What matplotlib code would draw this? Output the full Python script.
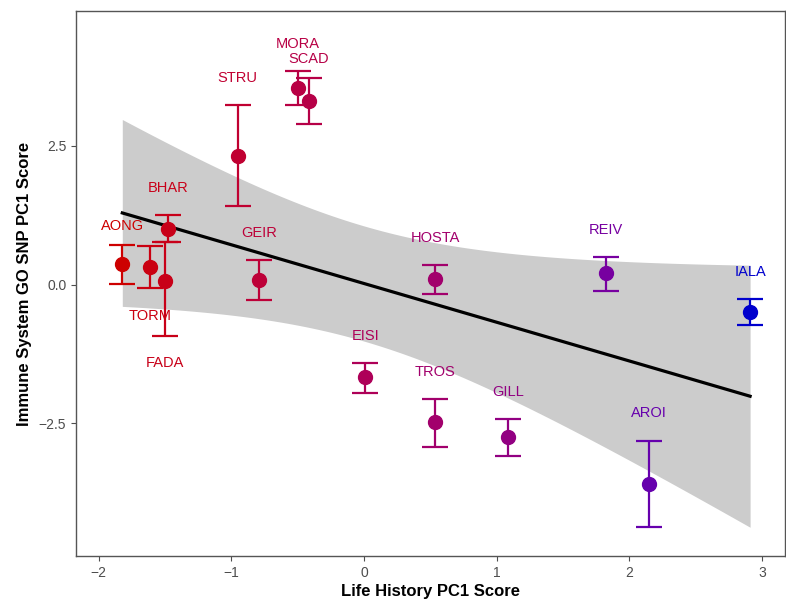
import numpy as np
import matplotlib
matplotlib.use("Agg")
import matplotlib.pyplot as plt

plt.rcParams['font.family'] = ['Liberation Sans', 'DejaVu Sans']

# population codes with PC1 scores and error bar limits
pops = ["AONG", "TORM", "FADA", "BHAR", "GEIR", "STRU", "MORA", "SCAD",
        "HOSTA", "EISI", "TROS", "GILL", "REIV", "IALA", "AROI"]
life_pc1 = [-1.821, -1.610, -1.497, -1.479, -0.791, -0.951, -0.499, -0.416,
            0.538, 0.011, 0.538, 1.084, 1.823, 2.911, 2.147]
immune_pc1 = [0.364, 0.321, 0.063, 1.000, 0.076, 2.321, 3.535, 3.312,
              0.094, -1.672, -2.483, -2.748, 0.202, -0.501, -3.595]
err_hi = [0.712, 0.699, 0.760, 1.252, 0.436, 3.229, 3.841, 3.721,
          0.346, -1.409, -2.058, -2.423, 0.501, -0.267, -2.814]
err_lo = [0.009, -0.063, -0.923, 0.760, -0.279, 1.414, 3.229, 2.897,
          -0.171, -1.950, -2.928, -3.085, -0.112, -0.730, -4.375]
label_below = ["TORM", "FADA"]

x = np.array(life_pc1)
y = np.array(immune_pc1)
hi = np.array(err_hi)
lo = np.array(err_lo)


# colour gradient red3 -> blue3 interpolated in Lab space
def srgb_to_lab(rgb):
    c = np.asarray(rgb, float)
    c = np.where(c <= 0.04045, c / 12.92, ((c + 0.055) / 1.055) ** 2.4)
    m = np.array([[0.4124, 0.3576, 0.1805],
                  [0.2126, 0.7152, 0.0722],
                  [0.0193, 0.1192, 0.9505]])
    xyz = m @ c / np.array([0.95047, 1.0, 1.08883])
    f = np.where(xyz > 0.008856, np.cbrt(xyz), 7.787 * xyz + 16 / 116)
    return np.array([116 * f[1] - 16, 500 * (f[0] - f[1]), 200 * (f[1] - f[2])])


def lab_to_srgb(lab):
    L, a, b = lab
    fy = (L + 16) / 116
    f = np.array([fy + a / 500, fy, fy - b / 200])
    xyz = np.where(f ** 3 > 0.008856, f ** 3, (f - 16 / 116) / 7.787)
    xyz = xyz * np.array([0.95047, 1.0, 1.08883])
    m = np.array([[3.2406, -1.5372, -0.4986],
                  [-0.9689, 1.8758, 0.0415],
                  [0.0557, -0.2040, 1.0570]])
    c = m @ xyz
    c = np.where(c <= 0.0031308, 12.92 * c, 1.055 * np.clip(c, 0, None) ** (1 / 2.4) - 0.055)
    return np.clip(c, 0, 1)


low_lab = srgb_to_lab([205 / 255, 0, 0])
high_lab = srgb_to_lab([0, 0, 205 / 255])
frac = (x - x.min()) / (x.max() - x.min())
colors = [lab_to_srgb(low_lab + t * (high_lab - low_lab)) for t in frac]

# linear fit with 95% confidence band
n = len(x)
slope, intercept = np.polyfit(x, y, 1)
resid = y - (intercept + slope * x)
s = np.sqrt(np.sum(resid ** 2) / (n - 2))
sxx = np.sum((x - x.mean()) ** 2)
t_crit = 2.1604  # t(0.975, df=13)
xs = np.linspace(x.min(), x.max(), 100)
ys = intercept + slope * xs
band = t_crit * s * np.sqrt(1 / n + (xs - x.mean()) ** 2 / sxx)

fig = plt.figure(figsize=(7.86, 5.99), dpi=100)
ax = fig.add_axes([76 / 786, 1 - 556 / 599, (785 - 76) / 786, (556 - 11.3) / 599])

ax.fill_between(xs, ys - band, ys + band, color="#CCCCCC", lw=0, zorder=1)
ax.plot(xs, ys, color="black", lw=2.3, zorder=2)

for i, name in enumerate(pops):
    c = colors[i]
    ax.errorbar(x[i], y[i], yerr=[[y[i] - lo[i]], [hi[i] - y[i]]], fmt="none",
                ecolor=c, elinewidth=1.6, capsize=9.5, capthick=1.6, zorder=3)
    ax.plot(x[i], y[i], "o", color=c, ms=10, zorder=4)
    if name in label_below:
        ly = lo[i] - 0.50
    elif name in ("AONG", "SCAD"):
        ly = hi[i] + 0.35
    else:
        ly = hi[i] + 0.49
    ax.text(x[i], ly, name, color=c, fontsize=10.5, ha="center", va="center", zorder=5)

ax.set_xlim(-2.170, 3.174)
ax.set_ylim(-4.892, 4.923)
ax.set_xticks([-2, -1, 0, 1, 2, 3])
ax.set_yticks([-2.5, 0.0, 2.5])
ax.set_xticklabels(["\u22122", "\u22121", "0", "1", "2", "3"])
ax.set_yticklabels(["\u22122.5", "0.0", "2.5"])
ax.tick_params(colors="#4D4D4D", labelsize=10, length=3.5, width=0.8, direction="out")
for sp in ax.spines.values():
    sp.set_color("#555555")
    sp.set_linewidth(1.0)

ax.set_xlabel("Life History PC1 Score", fontsize=12, fontweight="bold", labelpad=3)
ax.set_ylabel("Immune System GO SNP PC1 Score", fontsize=12, fontweight="bold", labelpad=5)

fig.savefig("out.png", dpi=100)
